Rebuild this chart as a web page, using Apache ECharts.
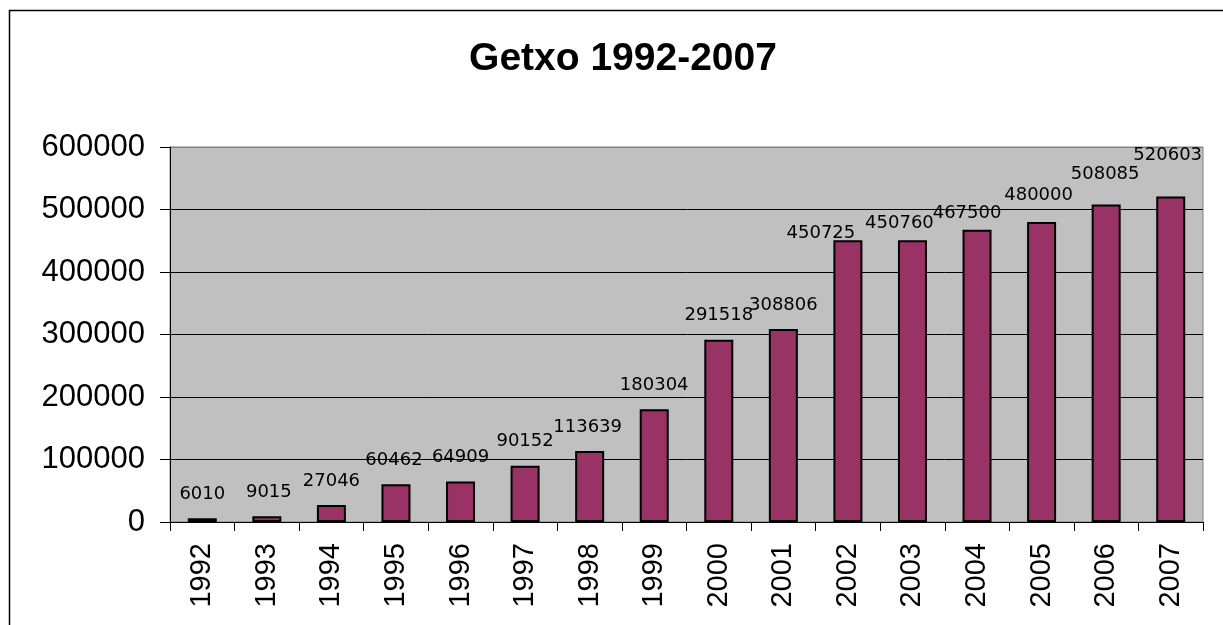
<!DOCTYPE html>
<html>
<head>
<meta charset="utf-8">
<script src="https://cdn.jsdelivr.net/npm/echarts@6/dist/echarts.min.js"></script>
<style>
html,body{margin:0;padding:0;background:#fff;}
#chart{width:1223px;height:625px;}
</style>
</head>
<body>
<div id="chart"></div>
<script>
var titleText = 'Getxo 1992-2007';
var years = ['1992','1993','1994','1995','1996','1997','1998','1999','2000','2001','2002','2003','2004','2005','2006','2007'];
var values = [6010, 9015, 27046, 60462, 64909, 90152, 113639, 180304, 291518, 308806, 450725, 450760, 467500, 480000, 508085, 520603];
var yTicks = [0, 100000, 200000, 300000, 400000, 500000, 600000];
// label nudges (style only, in px)
var labelNudges = [[0,-2],[2,-2],[0,-2],[-2,-2],[0,-2],[0,-2],[-2,-2],[0,-2],[0,-2],[0,-2],[-27,15],[-13,5],[-10,6],[-3,-5],[-1,-8],[-3,-19]];

var chart = echarts.init(document.getElementById('chart'));
var seriesData = values.map(function(v, i){
  return { value: v, label: { offset: labelNudges[i] } };
});
chart.setOption({
  animation: false,
  backgroundColor: '#ffffff',
  title: {
    text: titleText,
    left: 618,
    textAlign: 'center',
    top: 35,
    textStyle: { fontFamily: 'Liberation Sans, Arial, sans-serif', fontWeight: 'bold', fontSize: 39, color: '#000' }
  },
  graphic: [{
    type: 'rect',
    shape: { x: 9.5, y: 10.5, width: 1400, height: 800 },
    style: { fill: 'none', stroke: '#000', lineWidth: 1.5 },
    silent: true,
    z: -10
  }],
  grid: {
    left: 170, right: 20, top: 147, bottom: 103,
    show: true, backgroundColor: '#C0C0C0', borderColor: '#808080', borderWidth: 1
  },
  xAxis: {
    type: 'category',
    data: years,
    axisLine: { lineStyle: { color: '#000', width: 1 } },
    axisTick: { show: true, alignWithLabel: false, length: 9, lineStyle: { color: '#000' } },
    axisLabel: { rotate: 90, margin: 21, fontSize: 29, color: '#000', fontFamily: 'Liberation Sans, Arial, sans-serif' },
    splitLine: { show: false }
  },
  yAxis: {
    type: 'value',
    min: yTicks[0], max: yTicks[yTicks.length-1], interval: yTicks[1]-yTicks[0],
    axisLine: { show: true, lineStyle: { color: '#000', width: 1 } },
    axisTick: { show: true, length: 10, lineStyle: { color: '#000' } },
    axisLabel: { margin: 25, fontSize: 31, color: '#000', fontFamily: 'Liberation Sans, Arial, sans-serif',
      formatter: function(v){ return String(v); } },
    splitLine: { show: true, lineStyle: { color: ['#000','#000','#000','#000','#000','#000','#808080'], width: 1 } }
  },
  series: [{
    type: 'bar',
    data: seriesData,
    barWidth: 29,
    itemStyle: { color: '#993366', borderColor: '#000', borderWidth: 2 },
    label: {
      show: true, position: 'top', distance: 13,
      fontSize: 18, color: '#000', fontFamily: 'DejaVu Sans, sans-serif'
    }
  }]
});
</script>
</body>
</html>
